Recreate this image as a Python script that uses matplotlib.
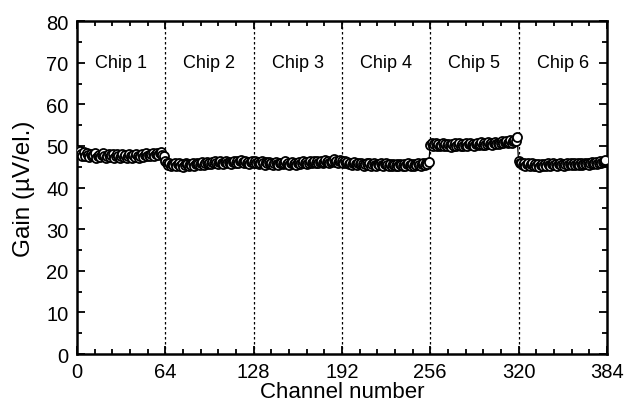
import matplotlib
matplotlib.use("Agg")
import matplotlib.pyplot as plt
import numpy as np
from matplotlib.ticker import MultipleLocator

plt.rcParams['font.family'] = ['Liberation Sans', 'DejaVu Sans']

chip1 = [49.0, 48.4, 48.9, 48.1, 47.7, 48.5, 47.5, 48.2, 47.8, 47.3, 48.1, 47.5, 47.9, 48.3, 47.2, 47.7,
         47.9, 47.3, 47.8, 48.2, 47.5, 47.1, 47.7, 48.0, 47.4, 47.8, 48.1, 47.2, 47.6, 48.0, 47.7, 47.1,
         47.6, 48.0, 47.4, 47.8, 47.2, 47.7, 48.1, 47.5, 47.2, 47.8, 47.4, 48.0, 47.6, 47.1, 47.7, 48.0,
         47.4, 47.8, 48.2, 47.5, 47.9, 47.6, 48.1, 48.3, 47.7, 48.1, 48.4, 47.8, 48.2, 48.5, 47.9, 47.6]
chip2 = [46.5, 45.9, 45.5, 45.8, 45.2, 45.7, 45.4, 45.9, 45.1, 45.6, 45.8, 45.2, 45.7, 45.0, 45.5, 45.9,
         45.6, 45.2, 45.7, 45.4, 45.8, 45.3, 45.6, 46.0, 45.7, 45.4, 45.8, 46.1, 45.5, 45.9, 46.2, 45.7,
         46.0, 45.6, 46.1, 45.9, 46.3, 45.9, 45.7, 46.2, 46.5, 46.0, 45.7, 46.1, 46.4, 45.8, 46.2, 46.0,
         45.7, 46.1, 46.5, 46.0, 46.3, 45.8, 46.3, 46.6, 46.1, 45.8, 46.3, 45.9, 46.2, 45.7, 46.1, 46.4]
chip3 = [46.0, 46.3, 45.8, 46.1, 45.7, 46.0, 46.4, 45.8, 45.5, 46.1, 45.8, 46.2, 45.7, 46.0, 45.5, 45.9,
         46.2, 45.7, 45.4, 45.9, 46.0, 45.6, 45.9, 46.3, 45.7, 46.0, 45.5, 45.9, 46.2, 45.7, 46.0, 45.5,
         45.9, 46.2, 45.7, 46.0, 46.3, 45.8, 46.1, 45.7, 46.0, 46.4, 45.8, 46.1, 46.5, 46.0, 46.3, 45.8,
         46.1, 46.4, 46.0, 46.2, 46.6, 46.1, 46.4, 46.0, 46.2, 46.5, 46.8, 46.2, 46.5, 46.0, 46.3, 46.6]
chip4 = [46.3, 46.0, 46.4, 45.8, 46.1, 45.7, 46.0, 45.5, 45.9, 46.2, 45.7, 45.4, 45.9, 45.6, 46.0, 45.7,
         45.3, 45.7, 45.9, 45.5, 45.8, 45.3, 45.7, 45.9, 45.5, 45.2, 45.7, 45.4, 45.8, 45.5, 45.2, 45.6,
         45.8, 45.4, 45.1, 45.6, 45.3, 45.7, 45.4, 45.1, 45.6, 45.3, 45.7, 45.4, 45.1, 45.6, 45.3, 45.6,
         45.8, 45.4, 45.2, 45.6, 45.3, 45.7, 45.4, 45.8, 45.5, 45.3, 45.7, 45.9, 45.5, 45.8, 45.6, 46.1]
chip5 = [50.2, 50.7, 50.0, 50.4, 50.8, 50.1, 50.5, 49.9, 50.3, 50.7, 50.1, 50.4, 49.9, 50.5, 50.2, 49.8,
         50.4, 50.1, 50.6, 50.0, 50.3, 50.7, 50.1, 50.4, 49.9, 50.3, 50.6, 50.1, 50.4, 50.8, 50.2, 50.5,
         50.1, 50.4, 50.7, 50.2, 50.5, 50.9, 50.3, 50.6, 50.2, 50.5, 50.9, 50.4, 50.7, 50.3, 50.6, 51.0,
         50.5, 50.8, 50.4, 50.7, 51.1, 50.6, 50.9, 51.3, 50.7, 51.0, 51.4, 50.8, 51.1, 51.5, 51.1, 52.2]
chip6 = [46.3, 45.8, 46.0, 45.5, 45.9, 45.3, 45.7, 46.0, 45.2, 45.6, 45.8, 45.1, 45.6, 45.3, 45.7, 45.0,
         45.4, 45.7, 45.2, 45.6, 45.3, 45.8, 45.4, 45.1, 45.6, 45.9, 45.4, 45.7, 45.3, 45.6, 45.9, 45.4,
         45.7, 45.3, 45.6, 45.9, 45.4, 45.7, 46.0, 45.5, 45.8, 45.4, 45.7, 46.0, 45.5, 45.8, 45.4, 45.7,
         46.0, 45.6, 45.9, 45.5, 45.8, 46.1, 45.6, 45.9, 46.2, 45.7, 46.0, 46.3, 45.8, 46.1, 46.4, 46.7]

gain = chip1 + chip2 + chip3 + chip4 + chip5 + chip6
channels = list(range(len(gain)))
chip_labels = ["Chip 1", "Chip 2", "Chip 3", "Chip 4", "Chip 5", "Chip 6"]
boundaries = [64, 128, 192, 256, 320]
xticks = [0, 64, 128, 192, 256, 320, 384]

fig = plt.figure(figsize=(6.25, 4.1), dpi=100)
ax = fig.add_axes([0.123, 0.134, 0.848, 0.812])

for b in boundaries:
    ax.axvline(b, color='black', lw=0.9, ls=(0, (2, 2)), zorder=1)

ax.plot(channels, gain, color='black', lw=0.9, marker='o', markersize=6.5,
        markerfacecolor='white', markeredgecolor='black', markeredgewidth=1.3, zorder=3)

for i, lab in enumerate(chip_labels):
    ax.text(32 + 64 * i, 70, lab, ha='center', va='center', fontsize=13)

ax.set_xlim(0, 384)
ax.set_ylim(0, 80)
ax.set_xticks(xticks)
ax.xaxis.set_minor_locator(MultipleLocator(12.8))
ax.yaxis.set_major_locator(MultipleLocator(10))
ax.yaxis.set_minor_locator(MultipleLocator(5))
ax.tick_params(which='both', direction='in', top=True, right=True, width=1.3, labelsize=14.5)
ax.tick_params(which='major', length=6)
ax.tick_params(which='minor', length=3.5)
ax.tick_params(axis='x', which='major', pad=6)
ax.tick_params(axis='y', which='major', pad=6)
for s in ax.spines.values():
    s.set_linewidth(1.8)

ax.set_xlabel("Channel number", fontsize=16, labelpad=0)
ax.set_ylabel("Gain (\u00b5V/el.)", fontsize=17.5, labelpad=8)

fig.savefig("out.png", dpi=100)
